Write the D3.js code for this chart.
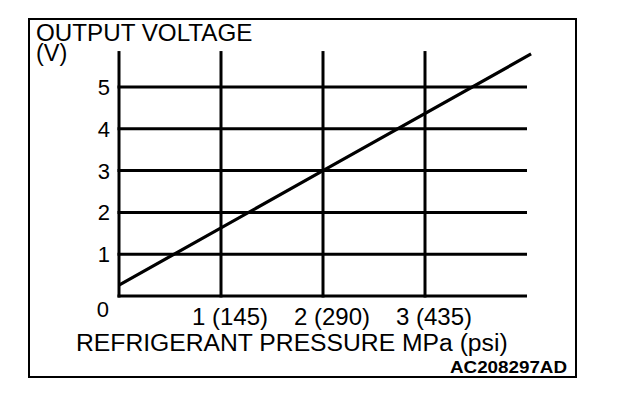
<!DOCTYPE html>
<html><head><meta charset="utf-8">
<script src="https://cdn.jsdelivr.net/npm/d3@7"></script>
<style>
html,body{margin:0;padding:0;background:#fff;}
svg text{font-family:"Liberation Sans",Arial,Helvetica,sans-serif;fill:#000;}
</style></head>
<body><svg id="c" width="624" height="400"></svg>
<script>
// Data
const pressureMPa = [0, 2, 4.04];
const outputVoltage = [0.26, 3.0, 5.79];
const xTickValues = [1, 2, 3];
const xTickLabels = ["1 (145)", "2 (290)", "3 (435)"];
const yTickValues = [1, 2, 3, 4, 5];
const yTickLabels = ["1", "2", "3", "4", "5"];
const yTitle = ["OUTPUT VOLTAGE", "(V)"];
const xTitle = "REFRIGERANT PRESSURE MPa (psi)";
const figureId = "AC208297AD";

const svg = d3.select("#c");
const x = d3.scaleLinear().domain([0, 4]).range([119, 527]);
const y = d3.scaleLinear().domain([0, 5]).range([296, 87]);
const yTop = 5.86;

// frame
svg.append("rect").attr("x", 29).attr("y", 19).attr("width", 547).attr("height", 358)
  .attr("fill", "none").attr("stroke", "#000").attr("stroke-width", 2);

const g = svg.append("g").attr("stroke", "#000").attr("stroke-width", 3);
// horizontal grid lines incl. baseline
[0, ...yTickValues].forEach(v => {
  g.append("line").attr("x1", x(0) - 1.5).attr("x2", x(4)).attr("y1", y(v)).attr("y2", y(v));
});
// vertical lines incl. y axis
[0, ...xTickValues].forEach(v => {
  g.append("line").attr("x1", x(v)).attr("x2", x(v)).attr("y1", y(0) + 1.5).attr("y2", y(yTop));
});

// data line
const pts = pressureMPa.map((p, i) => [p, outputVoltage[i]]);
svg.append("path").datum(pts)
  .attr("d", d3.line().x(d => x(d[0])).y(d => y(d[1])))
  .attr("fill", "none").attr("stroke", "#000").attr("stroke-width", 3.2);

// y tick labels
svg.selectAll(".yt").data(yTickValues).enter().append("text")
  .attr("x", 110).attr("y", d => y(d) + 8)
  .attr("text-anchor", "end").attr("font-size", 22)
  .text((d, i) => yTickLabels[i]);
svg.append("text").attr("x", 109).attr("y", y(0) + 21).attr("text-anchor", "end")
  .attr("font-size", 22).text("0");

// x tick labels
svg.selectAll(".xt").data(xTickValues).enter().append("text")
  .attr("x", d => x(d) + 9).attr("y", 325)
  .attr("text-anchor", "middle").attr("font-size", 24)
  .text((d, i) => xTickLabels[i]);

// titles
svg.append("text").attr("x", 36).attr("y", 41).attr("font-size", 24.2).text(yTitle[0]);
svg.append("text").attr("x", 36).attr("y", 61).attr("font-size", 23.5).text(yTitle[1]);
svg.append("text").attr("x", 76).attr("y", 351).attr("font-size", 24.7).text(xTitle);
svg.append("text").attr("x", 567).attr("y", 373).attr("text-anchor", "end")
  .attr("font-size", 16).attr("font-weight", "bold")
  .attr("textLength", 117).attr("lengthAdjust", "spacingAndGlyphs").text(figureId);
</script></body></html>
